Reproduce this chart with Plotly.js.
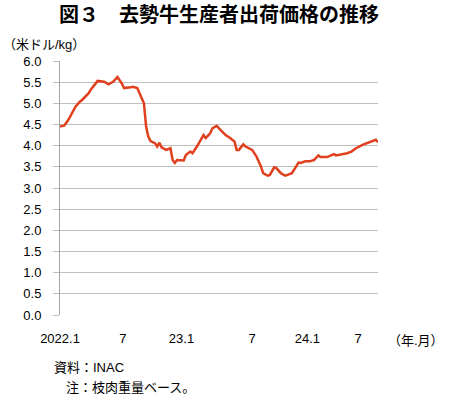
<!DOCTYPE html>
<html>
<head>
<meta charset="utf-8">
<script src="https://cdn.plot.ly/plotly-3.0.1.min.js"></script>
<style>html,body{margin:0;padding:0;background:#fff;}#chart{width:450px;height:397px;}</style>
</head>
<body>
<div id="chart"></div>
<script>
// week index counted from 2022.1
const weeks = [0,2,4,7,9,10,13,14,16,17,20,22,24,26,28,29,32,33,35,37,38,39,40,41,43,44,45,46,48,50,51,52,53,56,57,59,60,62,64,65,66,68,69,71,72,74,75,77,79,80,81,83,84,87,89,91,92,94,95,97,98,100,102,103,105,106,108,109,111,113,115,117,118,121,124,125,128,130,132,134,137,139,141,143,144];
const prices = [4.45,4.48,4.63,4.92,5.04,5.08,5.24,5.33,5.46,5.53,5.51,5.45,5.51,5.62,5.47,5.36,5.38,5.39,5.36,5.12,5.00,4.45,4.21,4.11,4.06,3.98,4.07,3.96,3.90,3.94,3.66,3.59,3.66,3.65,3.78,3.86,3.82,3.98,4.18,4.25,4.18,4.29,4.41,4.47,4.41,4.31,4.25,4.18,4.10,3.90,3.90,4.03,3.98,3.90,3.74,3.51,3.35,3.29,3.31,3.49,3.47,3.35,3.29,3.31,3.35,3.43,3.60,3.59,3.63,3.63,3.66,3.77,3.73,3.73,3.80,3.77,3.80,3.82,3.86,3.94,4.02,4.06,4.10,4.14,4.08];
const tickWeeks = [0,28.5,55,87,112,135];
const tickLabels = ["2022.1","7","23.1","7","24.1","7"];

const FONT = "Liberation Sans, Arial, 'Noto Sans CJK JP', sans-serif";
const trace = {
  x: weeks, y: prices, type: 'scatter', mode: 'lines',
  line: {color: '#E0401E', width: 2.5, shape: 'linear'},
  hoverinfo: 'none'
};
const layout = {
  width: 450, height: 397,
  margin: {l: 60, r: 72, t: 61, b: 82},
  paper_bgcolor: '#fff', plot_bgcolor: '#fff',
  showlegend: false,
  font: {family: FONT, size: 13, color: '#000'},
  title: {
    text: '<b>図３　去勢牛生産者出荷価格の推移</b>',
    font: {family: "'Noto Sans CJK JP', sans-serif", size: 20, color: '#000'},
    x: 0.5, xref: 'paper', xanchor: 'center', y: 0.962, yref: 'container', yanchor: 'middle'
  },
  xaxis: {
    range: [0, 144], tickmode: 'array', tickvals: tickWeeks, ticktext: tickLabels,
    showgrid: false, zeroline: false, showline: false, ticks: '',
    ticklabelstandoff: 14, tickfont: {family: FONT, size: 13, color: '#000'}
  },
  yaxis: {
    range: [0, 6], dtick: 0.5, tick0: 0, tickformat: '.1f',
    showgrid: true, gridcolor: '#bfbfbf', gridwidth: 1,
    zeroline: false, showline: true, linecolor: '#a6a6a6', linewidth: 1,
    ticks: 'outside', ticklen: 6, tickcolor: '#bfbfbf',
    ticklabelstandoff: 9, tickfont: {family: FONT, size: 13, color: '#000'}
  },
  annotations: [
    {text: '（米ドル/kg）', xref: 'paper', yref: 'paper', x: -0.186, y: 1.063, xanchor: 'left', yanchor: 'middle', showarrow: false, font: {family: FONT, size: 13}},
    {text: '（年.月）', xref: 'paper', yref: 'paper', x: 1.214, y: -0.10, xanchor: 'right', yanchor: 'middle', showarrow: false, font: {family: FONT, size: 13}},
    {text: '資料：INAC', xref: 'paper', yref: 'paper', x: -0.025, y: -0.207, xanchor: 'left', yanchor: 'middle', showarrow: false, font: {family: FONT, size: 13}},
    {text: '注：枝肉重量ベース。', xref: 'paper', yref: 'paper', x: 0.013, y: -0.285, xanchor: 'left', yanchor: 'middle', showarrow: false, font: {family: FONT, size: 13}}
  ]
};
Plotly.newPlot('chart', [trace], layout, {staticPlot: true, displayModeBar: false});
</script>
</body>
</html>
